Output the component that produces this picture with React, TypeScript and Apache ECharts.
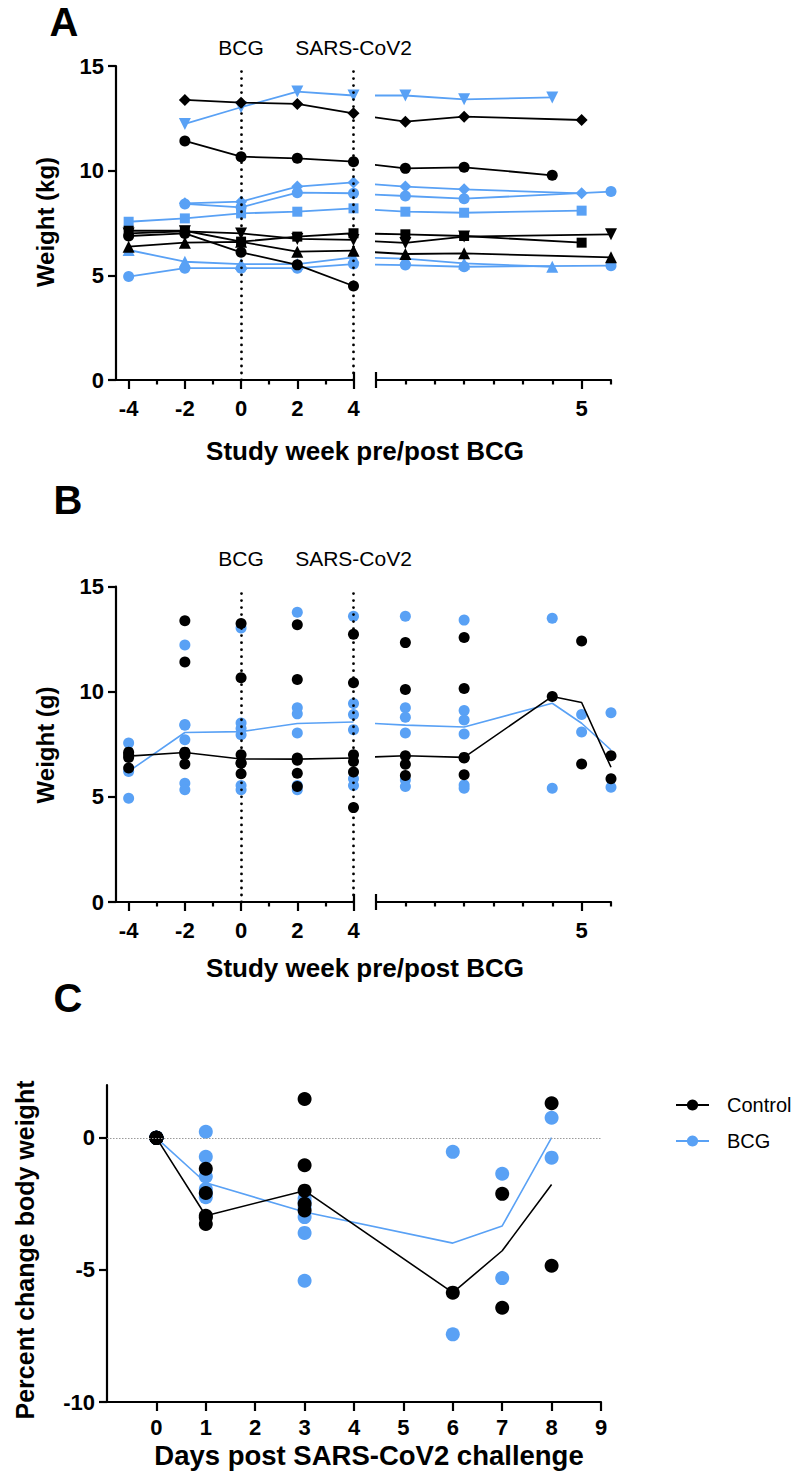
import React, { useEffect, useRef } from "react";
import * as echarts from "echarts";

const BLACK = "#000000";
const BLUE = "#59A1F5";
const FONT = "'Liberation Sans', Arial, Helvetica, sans-serif";

// ---------- Panels A / B : weights (kg) ----------
const WEEKS = [-4, -2, 0, 2, 4];
const WEEK_TICKS = [-4, -2, 0, 2, 4];
const WEEK_MINOR_TICKS = [-3, -1, 1, 3];
const DAYS = [1, 3, 6, 7, 8];
const DAY_TICKS = [1, 2, 3, 4, 5, 6, 8];
const WEEK5_DAY = [7];
const WEEK5_LABEL = "5";
const BRIDGE_DAY = -1;
const EVENT_WEEKS = [0, 4];
const EVENT_LABELS = ["BCG", "SARS-CoV2"];

// Control animals
const CTRL_DIAMOND_WK = [null, 13.38, 13.25, 13.19, 12.74];
const CTRL_DIAMOND_DAY = [12.34, 12.58, null, 12.42, null];
const CTRL_HEX_WK = [null, 11.42, 10.67, 10.59, 10.43];
const CTRL_HEX_DAY = [10.11, 10.16, 9.78, null, null];
const CTRL_SQUARE_WK = [7.13, 7.13, 6.61, 6.85, 7.01];
const CTRL_SQUARE_DAY = [6.96, 6.88, null, 6.56, null];
const CTRL_TRIDOWN_WK = [7.0, 7.1, 7.0, 6.74, 6.69];
const CTRL_TRIDOWN_DAY = [6.55, 6.85, null, null, 6.96];
const CTRL_TRIUP_WK = [6.37, 6.56, 6.6, 6.13, 6.18];
const CTRL_TRIUP_DAY = [6.02, 6.05, null, null, 5.86];
const CTRL_CIRCLE_WK = [6.88, 7.0, 6.1, 5.5, 4.49];
const CTRL_CIRCLE_DAY = [null, null, null, null, null];

// BCG animals
const BCG_TRIDOWN_WK = [null, 12.23, 13.03, 13.78, 13.59];
const BCG_TRIDOWN_DAY = [13.59, 13.41, 13.5, null, null];
const BCG_DIAMOND_WK = [null, 8.44, 8.52, 9.24, 9.44];
const BCG_DIAMOND_DAY = [9.24, 9.11, null, 8.92, null];
const BCG_HEX_WK = [null, 8.41, 8.25, 8.95, 8.92];
const BCG_HEX_DAY = [8.79, 8.66, null, null, 9.0];
const BCG_SQUARE_WK = [7.56, 7.72, 7.96, 8.04, 8.2];
const BCG_SQUARE_DAY = [8.04, 7.99, null, 8.09, null];
const BCG_TRIUP_WK = [6.21, 5.65, 5.54, 5.54, 5.86];
const BCG_TRIUP_DAY = [5.8, 5.57, 5.41, null, null];
const BCG_CIRCLE_WK = [4.94, 5.34, 5.34, 5.34, 5.54];
const BCG_CIRCLE_DAY = [5.49, 5.41, null, null, 5.46];

// ---------- Panel C : percent change ----------
const C_DAYS = [0, 1, 3, 6, 7, 8];
const C_TICKS = [0, 1, 2, 3, 4, 5, 6, 7, 8, 9];
const C_Y_TICKS = [-10, -5, 0];
const CTRL_PCT = [
  [0, 0, 0, 0, 0],
  [-1.17, -2.09, -2.95, -3.02, -3.26],
  [1.47, -1.04, -2.0, -2.5, -2.75],
  [-5.86],
  [-2.12, -6.43],
  [1.31, -4.84],
];
const BCG_PCT = [
  [0, 0, 0, 0, 0, 0],
  [0.23, -0.72, -1.46, -1.94, -2.1, -2.25],
  [-2.3, -2.43, -2.62, -3.0, -3.6, -5.41],
  [-0.53, -7.44],
  [-1.36, -5.31],
  [0.76, -0.75],
];

type Animal = { wk: (number | null)[]; day: (number | null)[]; marker: string; rotate: number; size: number };

const CONTROL: Animal[] = [
  { wk: CTRL_DIAMOND_WK, day: CTRL_DIAMOND_DAY, marker: "diamond", rotate: 0, size: 12 },
  { wk: CTRL_HEX_WK, day: CTRL_HEX_DAY, marker: "circle", rotate: 0, size: 11 },
  { wk: CTRL_SQUARE_WK, day: CTRL_SQUARE_DAY, marker: "rect", rotate: 0, size: 10 },
  { wk: CTRL_TRIDOWN_WK, day: CTRL_TRIDOWN_DAY, marker: "triangle", rotate: 180, size: 12 },
  { wk: CTRL_TRIUP_WK, day: CTRL_TRIUP_DAY, marker: "triangle", rotate: 0, size: 12 },
  { wk: CTRL_CIRCLE_WK, day: CTRL_CIRCLE_DAY, marker: "circle", rotate: 0, size: 11 },
];
const BCG: Animal[] = [
  { wk: BCG_TRIDOWN_WK, day: BCG_TRIDOWN_DAY, marker: "triangle", rotate: 180, size: 12 },
  { wk: BCG_DIAMOND_WK, day: BCG_DIAMOND_DAY, marker: "diamond", rotate: 0, size: 12 },
  { wk: BCG_HEX_WK, day: BCG_HEX_DAY, marker: "circle", rotate: 0, size: 11 },
  { wk: BCG_SQUARE_WK, day: BCG_SQUARE_DAY, marker: "rect", rotate: 0, size: 10 },
  { wk: BCG_TRIUP_WK, day: BCG_TRIUP_DAY, marker: "triangle", rotate: 0, size: 12 },
  { wk: BCG_CIRCLE_WK, day: BCG_CIRCLE_DAY, marker: "circle", rotate: 0, size: 11 },
];

function median(vals: number[]): number {
  const s = [...vals].sort((a, b) => a - b);
  const n = s.length;
  const m = Math.floor(n / 2);
  return n % 2 ? s[m] : (s[m - 1] + s[m]) / 2;
}
const present = (arr: (number | null)[]) => arr.filter((v) => v != null) as number[];

// ---------- layout ----------
const LEFT_X = 116;
const LEFT_W = 237.5;
const RIGHT_X = 376;
const RIGHT_W = 235;
const A_TOP = 66;
const A_H = 314;
const B_TOP = 586.7;
const B_H = 315.3;
const C_LEFT = 107;
const C_W = 494;
const C_TOP = 1085;
const C_H = 317;

const AX_W = 2.2;
const labelStyle = { fontSize: 22, fontWeight: "bold", color: BLACK, fontFamily: FONT };

function buildOption() {
  const grid = [
    { left: LEFT_X, top: A_TOP, width: LEFT_W, height: A_H },
    { left: RIGHT_X, top: A_TOP, width: RIGHT_W, height: A_H },
    { left: LEFT_X, top: B_TOP, width: LEFT_W, height: B_H },
    { left: RIGHT_X, top: B_TOP, width: RIGHT_W, height: B_H },
    { left: C_LEFT, top: C_TOP, width: C_W, height: C_H },
  ];

  const xAxis: any[] = [];
  const addX = (o: any) => {
    xAxis.push(o);
    return xAxis.length - 1;
  };
  const tickOnly = (g: number, min: number, max: number, vals: number[], len: number, inside: boolean) => ({
    type: "value",
    gridIndex: g,
    position: "bottom",
    min,
    max,
    axisLine: { show: false, onZero: false },
    axisLabel: { show: false },
    splitLine: { show: false },
    axisTick: { show: true, inside, customValues: vals, length: len, lineStyle: { color: BLACK, width: AX_W } },
  });
  const mainX = (g: number, min: number, max: number, tickVals: number[], tickLen: number, labelVals: number[], fmt?: (v: number) => string, margin = 17) => ({
    type: "value",
    gridIndex: g,
    position: "bottom",
    min,
    max,
    axisLine: { show: true, onZero: false, lineStyle: { color: BLACK, width: AX_W } },
    axisTick: { show: true, customValues: tickVals, length: tickLen, lineStyle: { color: BLACK, width: AX_W } },
    axisLabel: { show: labelVals.length > 0, customValues: labelVals, margin, formatter: fmt, ...labelStyle },
    splitLine: { show: false },
  });

  const WMIN = -4.45;
  const WMAX = 4;
  const DMIN = 0;
  const DMAX = 8;

  // main axes (indices 0..4)
  addX(mainX(0, WMIN, WMAX, WEEK_TICKS, 9, WEEK_TICKS));
  addX(mainX(1, DMIN, DMAX, DAY_TICKS, 4.5, []));
  addX(mainX(2, WMIN, WMAX, WEEK_TICKS, 9, WEEK_TICKS));
  addX(mainX(3, DMIN, DMAX, DAY_TICKS, 4.5, []));
  addX(mainX(4, -1, 9, C_TICKS, 9, C_TICKS, undefined, 14));
  // decorations for A and B (minor ticks, break caps, week-5 tick)
  for (const [gl, gr] of [[0, 1], [2, 3]]) {
    addX(tickOnly(gl, WMIN, WMAX, WEEK_MINOR_TICKS, 4.5, false));
    addX(tickOnly(gl, WMIN, WMAX, [WMAX], 8, true));
    addX(mainX(gr, DMIN, DMAX, WEEK5_DAY, 9, WEEK5_DAY, () => WEEK5_LABEL));
    xAxis[xAxis.length - 1].axisLine.show = false;
    addX(tickOnly(gr, DMIN, DMAX, [DMIN], 8, false));
    addX(tickOnly(gr, DMIN, DMAX, [DMIN], 8, true));
  }

  const visY = (g: number, min: number, max: number, vals: number[]) => ({
    type: "value",
    gridIndex: g,
    min,
    max,
    axisLine: { show: true, onZero: false, lineStyle: { color: BLACK, width: AX_W } },
    axisTick: { show: true, customValues: vals, length: 8, lineStyle: { color: BLACK, width: AX_W } },
    axisLabel: { show: true, customValues: vals, margin: 12, ...labelStyle },
    splitLine: { show: false },
  });
  const hidY = (g: number, min: number, max: number) => ({
    type: "value",
    gridIndex: g,
    min,
    max,
    show: false,
    axisLine: { show: false, onZero: false },
    splitLine: { show: false },
  });
  const W_TICKS = [0, 5, 10, 15];
  const yAxis = [
    visY(0, 0, 15, W_TICKS),
    hidY(1, 0, 15),
    visY(2, 0, 15, W_TICKS),
    hidY(3, 0, 15),
    visY(4, -10, 2, C_Y_TICKS),
  ];

  const series: any[] = [];
  const eventMarkLine = (dist: number) => ({
    silent: true,
    symbol: "none",
    lineStyle: { color: BLACK, width: 2.8, type: [0.01, 7], cap: "round" },
    label: { show: true, position: "end", distance: dist, color: BLACK, fontSize: 21, fontFamily: FONT },
    data: EVENT_WEEKS.map((w, i) => ({ xAxis: w, label: { formatter: EVENT_LABELS[i] } })),
  });

  // ---- Panel A ----
  const addAnimals = (group: Animal[], color: string, withMark: boolean) => {
    group.forEach((a, k) => {
      const left = WEEKS.map((w, i) => (a.wk[i] == null ? null : [w, a.wk[i]])).filter(Boolean);
      const common = {
        type: "line",
        symbol: a.marker,
        symbolSize: a.size,
        symbolRotate: a.rotate,
        clip: true,
        lineStyle: { color, width: 1.8 },
        itemStyle: { color },
        z: color === BLACK ? 4 : 3,
      };
      const s: any = { ...common, xAxisIndex: 0, yAxisIndex: 0, data: left };
      if (withMark && k === 0) s.markLine = eventMarkLine(8);
      series.push(s);
      const dayPts = DAYS.map((d, i) => (a.day[i] == null ? null : [d, a.day[i]])).filter(Boolean);
      if (dayPts.length) {
        series.push({
          ...common,
          xAxisIndex: 1,
          yAxisIndex: 1,
          data: [{ value: [BRIDGE_DAY, a.wk[WEEKS.length - 1]], symbol: "none" }, ...dayPts],
        });
      }
    });
  };
  addAnimals(BCG, BLUE, true);
  addAnimals(CONTROL, BLACK, false);

  // ---- Panel B ----
  const addGroupB = (group: Animal[], color: string, withMark: boolean) => {
    const leftPts = group.flatMap((a) => WEEKS.map((w, i) => (a.wk[i] == null ? null : [w, a.wk[i]]))).filter(Boolean);
    const rightPts = group.flatMap((a) => DAYS.map((d, i) => (a.day[i] == null ? null : [d, a.day[i]]))).filter(Boolean);
    const wkMed = WEEKS.map((w, i) => [w, median(present(group.map((a) => a.wk[i])))]);
    const dayMed = DAYS.map((d, i) => {
      const v = present(group.map((a) => a.day[i]));
      return v.length ? [d, median(v)] : null;
    }).filter(Boolean);
    const z = color === BLACK ? 4 : 3;
    const ml: any = {
      type: "line",
      xAxisIndex: 2,
      yAxisIndex: 2,
      data: wkMed,
      symbol: "none",
      clip: true,
      lineStyle: { color, width: 1.6 },
      z,
    };
    if (withMark) ml.markLine = eventMarkLine(18);
    series.push(ml);
    series.push({
      type: "line",
      xAxisIndex: 3,
      yAxisIndex: 3,
      data: [[BRIDGE_DAY, wkMed[wkMed.length - 1][1]], ...dayMed],
      symbol: "none",
      clip: true,
      lineStyle: { color, width: 1.6 },
      z,
    });
    series.push({ type: "scatter", xAxisIndex: 2, yAxisIndex: 2, data: leftPts, symbolSize: 11, itemStyle: { color, opacity: 1 }, z });
    series.push({ type: "scatter", xAxisIndex: 3, yAxisIndex: 3, data: rightPts, symbolSize: 11, itemStyle: { color, opacity: 1 }, z });
  };
  addGroupB(BCG, BLUE, true);
  addGroupB(CONTROL, BLACK, false);

  // ---- Panel C ----
  const addGroupC = (pct: number[][], color: string, name: string, withZero: boolean) => {
    const z = color === BLACK ? 4 : 3;
    const med = C_DAYS.map((d, i) => [d, median(pct[i])]);
    const pts = C_DAYS.flatMap((d, i) => pct[i].map((v) => [d, v]));
    const ln: any = {
      type: "line",
      xAxisIndex: 4,
      yAxisIndex: 4,
      data: med,
      symbol: "none",
      lineStyle: { color, width: 1.6 },
      z,
    };
    if (withZero) {
      ln.markLine = {
        silent: true,
        symbol: "none",
        label: { show: false },
        lineStyle: { color: "#9a9a9a", width: 1, type: [1.5, 1.5] },
        data: [{ yAxis: 0 }],
      };
    }
    series.push(ln);
    series.push({ type: "scatter", xAxisIndex: 4, yAxisIndex: 4, data: pts, symbolSize: 14, itemStyle: { color, opacity: 1 }, z });
    series.push({
      type: "line",
      name,
      xAxisIndex: 4,
      yAxisIndex: 4,
      data: [],
      symbol: "circle",
      symbolSize: 13,
      lineStyle: { color, width: 2 },
      itemStyle: { color },
    });
  };
  addGroupC(BCG_PCT, BLUE, "BCG", true);
  addGroupC(CTRL_PCT, BLACK, "Control", false);

  const txt = (text: string, x: number, y: number, size: number, bold: boolean, rot = 0) => ({
    type: "text",
    x,
    y,
    rotation: rot,
    style: {
      text,
      fontSize: size,
      fontWeight: bold ? "bold" : "normal",
      fontFamily: FONT,
      fill: BLACK,
      textAlign: "center",
      textVerticalAlign: "middle",
    },
  });

  return {
    animation: false,
    backgroundColor: "#ffffff",
    grid,
    xAxis,
    yAxis,
    series,
    legend: {
      data: ["Control", "BCG"],
      orient: "vertical",
      left: 670,
      top: 1090,
      itemWidth: 33,
      itemHeight: 14,
      itemGap: 16,
      selectedMode: false,
      textStyle: { fontSize: 20, color: BLACK, fontFamily: FONT, padding: [0, 0, 0, 13] },
    },
    graphic: [
      txt("A", 64, 22, 40, true),
      txt("B", 68, 500, 40, true),
      txt("C", 68, 998, 40, true),
      txt("Weight (kg)", 45, 222, 24, true, Math.PI / 2),
      txt("Weight (g)", 45, 745, 24, true, Math.PI / 2),
      txt("Percent change body weight", 25, 1250, 25, true, Math.PI / 2),
      txt("Study week pre/post BCG", 365, 451, 26, true),
      txt("Study week pre/post BCG", 365, 968, 26, true),
      txt("Days post SARS-CoV2 challenge", 369, 1455, 27.5, true),
    ],
  };
}

export default function App() {
  const ref = useRef<HTMLDivElement>(null);
  useEffect(() => {
    if (!ref.current) return;
    const chart = echarts.init(ref.current, undefined, { renderer: "svg" });
    chart.setOption(buildOption() as any);
    return () => chart.dispose();
  }, []);
  return (
    <div
      ref={ref}
      style={{ position: "absolute", left: 0, top: 0, width: 796, height: 1481, background: "#fff" }}
    />
  );
}
